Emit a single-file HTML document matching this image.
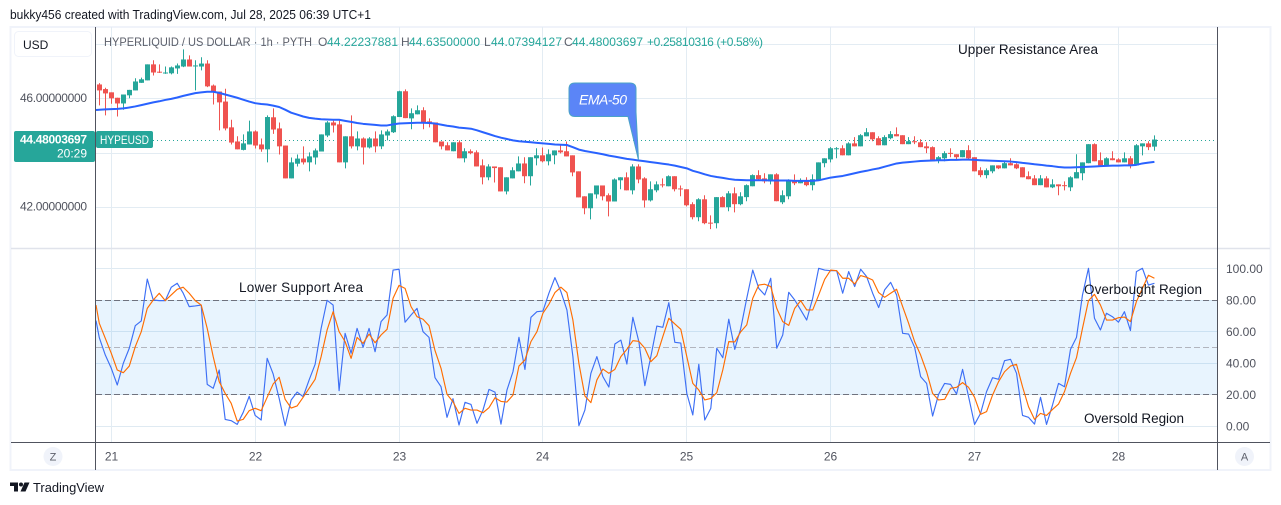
<!DOCTYPE html>
<html lang="en">
<head>
<meta charset="utf-8">
<title>HYPEUSD 1h chart</title>
<style>
html,body{margin:0;padding:0;background:#fff;width:1281px;height:505px;overflow:hidden}
svg{display:block;font-family:"Liberation Sans","DejaVu Sans",sans-serif}
</style>
</head>
<body>
<svg id="chart" xmlns="http://www.w3.org/2000/svg" width="1281" height="505" viewBox="0 0 1281 505">
  <text x="10" y="19" font-size="12.5" fill="#131722" textLength="361" lengthAdjust="spacingAndGlyphs">bukky456 created with TradingView.com, Jul 28, 2025 06:39 UTC+1</text>
  <rect x="10.5" y="27" width="1260" height="443" fill="#fff" stroke="#f0f3fa" stroke-width="2"/>
  <g id="grid"></g>
  <rect x="96" y="300.3" width="1121" height="94.2" fill="#2196f3" fill-opacity="0.1"/>
  <g id="bands"></g>
  <line id="priceLine" x1="153" x2="1217" stroke="#26a69a" stroke-width="1" stroke-dasharray="1 3"/>
  <g id="candles"></g>
  <path id="emaLine" fill="none" stroke="#2962ff" stroke-width="2" stroke-linejoin="round"/>
  <path id="kLine" fill="none" stroke="#3d6ff5" stroke-width="1.15" stroke-linejoin="round"/>
  <path id="dLine" fill="none" stroke="#ff6d00" stroke-width="1.15" stroke-linejoin="round"/>

  <line x1="11" x2="1270" y1="248.5" y2="248.5" stroke="#e0e3eb" stroke-width="1.5"/>
  <line x1="95.5" x2="95.5" y1="27" y2="470" stroke="#50535e" stroke-width="1"/>
  <line x1="1217.5" x2="1217.5" y1="27" y2="470" stroke="#50535e" stroke-width="1"/>
  <line x1="11" x2="1270" y1="442.5" y2="442.5" stroke="#50535e" stroke-width="1"/>

  <g>
    <rect x="14.5" y="31.5" width="77" height="25" rx="4" fill="#fff" stroke="#f0f3fa"/>
    <text x="23" y="49" font-size="12" fill="#131722">USD</text>
  </g>
  <g font-size="12">
    <text x="104" y="46" fill="#5d606b" textLength="208" lengthAdjust="spacingAndGlyphs">HYPERLIQUID / US DOLLAR · 1h · PYTH</text>
    <text x="318" y="46" fill="#5d606b">O</text>
    <text x="327" y="46" fill="#26a69a" textLength="71">44.22237881</text>
    <text x="401" y="46" fill="#5d606b">H</text>
    <text x="409" y="46" fill="#26a69a" textLength="71">44.63500000</text>
    <text x="484" y="46" fill="#5d606b">L</text>
    <text x="491" y="46" fill="#26a69a" textLength="71">44.07394127</text>
    <text x="564" y="46" fill="#5d606b">C</text>
    <text x="572" y="46" fill="#26a69a" textLength="71">44.48003697</text>
    <text x="647" y="46" fill="#26a69a" textLength="116">+0.25810316 (+0.58%)</text>
  </g>
  <g id="priceAxis"></g>
  <g id="stochAxis"></g>
  <g id="timeAxis"></g>

  <rect x="14" y="131" width="81" height="31" rx="2" fill="#26a69a"/>
  <text x="87" y="143.5" font-size="12" font-weight="bold" fill="#fff" text-anchor="end" textLength="67">44.48003697</text>
  <text x="87" y="157.5" font-size="12" fill="#fff" text-anchor="end">20:29</text>
  <rect x="96" y="131" width="57" height="17" rx="2" fill="#26a69a"/>
  <text x="100" y="144" font-size="12" fill="#fff" textLength="49" lengthAdjust="spacingAndGlyphs">HYPEUSD</text>

  <g>
    <path d="M575 83 H630 Q636 83 636 89 V112 L638.5 160 L628 116.5 H575 Q569 116.5 569 110 V89 Q569 83 575 83 Z" fill="#5b85f7" stroke="#4ba3c7" stroke-width="1"/>
    <text x="603" y="104.5" font-size="14" font-style="italic" fill="#fff" text-anchor="middle" textLength="48">EMA-50</text>
  </g>
  <text x="958" y="54" font-size="13.5" fill="#131722" textLength="140">Upper Resistance Area</text>
  <text x="239" y="292" font-size="13.5" fill="#131722" textLength="124">Lower Support Area</text>
  <text x="1084" y="294" font-size="13.5" fill="#131722" textLength="118">Overbought Region</text>
  <text x="1084" y="423" font-size="13.5" fill="#131722" textLength="100">Oversold Region</text>

  <g>
    <circle cx="53" cy="456.5" r="9.5" fill="#f0f3fa"/>
    <text x="53" y="460.5" font-size="11" fill="#5d606b" text-anchor="middle">Z</text>
  </g>
  <g>
    <circle cx="1244.5" cy="456.5" r="9.5" fill="#f0f3fa"/>
    <text x="1244.5" y="460.5" font-size="11" fill="#5d606b" text-anchor="middle">A</text>
  </g>
  <g>
    <path d="M10 482.5 H18 V491.5 H14 V486 H10 Z M24.5 482.5 H29.5 L25.5 491.5 H20.5 Z" fill="#131722"/>
    <circle cx="21" cy="484.5" r="2" fill="#131722"/>
    <text x="33" y="492" font-size="13" fill="#131722" textLength="71" lengthAdjust="spacingAndGlyphs">TradingView</text>
  </g>
</svg>
<script>
const opens = [46.51,46.34,46.22,46.02,45.81,46.11,46.29,46.57,46.66,47.25,
46.98,46.93,46.92,47.10,47.17,47.43,47.20,47.17,47.28,46.47,
46.25,45.88,44.93,44.41,44.10,44.30,44.78,44.30,44.12,45.30,
44.89,44.26,43.05,43.59,43.78,43.64,43.82,44.04,44.63,45.11,
45.04,43.64,44.60,44.23,44.52,44.19,44.52,44.23,44.63,44.75,
45.31,46.26,45.26,45.41,45.56,45.15,45.11,44.41,44.27,44.05,
44.38,43.79,44.05,44.01,43.53,43.09,43.49,43.46,42.57,43.05,
43.31,43.60,43.13,43.79,43.90,43.68,43.90,44.08,44.05,43.90,
43.31,42.39,41.95,42.46,42.79,42.43,42.20,42.98,43.09,42.61,
43.49,43.05,42.24,42.61,42.83,42.76,43.13,42.68,42.65,42.10,
41.62,42.28,41.42,41.40,42.36,41.99,42.50,42.10,42.36,42.76,
43.17,43.05,42.94,43.20,42.17,42.39,42.98,42.87,42.94,42.80,
42.98,43.61,43.75,44.14,44.16,43.90,44.34,44.23,44.60,44.75,
44.53,44.27,44.53,44.68,44.64,44.31,44.42,44.38,44.23,44.20,
43.72,43.79,43.99,43.94,43.83,44.09,43.83,43.35,43.17,43.31,
43.53,43.42,43.61,43.57,43.46,43.13,43.05,42.80,43.05,42.72,
42.83,42.80,42.72,43.05,43.24,43.61,44.31,43.72,43.53,43.79,
43.75,43.64,43.79,43.53,44.23,44.34,44.22];
const highs = [46.56,46.39,46.22,46.02,46.14,46.31,46.74,46.76,47.25,47.40,
47.25,47.17,47.17,47.28,47.80,47.58,47.40,47.51,47.40,46.51,
46.25,46.35,45.21,44.60,44.67,45.18,44.82,44.52,45.37,45.63,
45.11,44.26,43.82,43.93,44.23,44.01,44.15,44.67,45.16,45.18,
45.18,44.60,45.37,44.78,44.56,44.57,44.78,44.82,44.85,45.37,
46.28,46.33,45.63,45.74,45.67,45.26,45.11,44.41,44.38,44.38,
44.45,44.16,44.12,44.08,43.75,43.57,43.49,43.46,43.09,43.46,
43.86,43.83,43.83,44.16,44.19,44.12,44.08,44.30,44.41,43.90,
43.31,42.39,42.50,42.79,42.79,42.50,43.05,43.09,43.27,43.57,
43.57,43.09,42.94,42.94,43.05,43.16,43.13,42.79,42.65,42.17,
42.32,42.43,41.69,42.36,42.39,42.58,42.72,42.54,42.83,43.20,
43.35,43.24,43.20,43.24,42.61,43.02,43.20,43.05,43.09,43.20,
43.64,43.79,44.20,44.20,44.27,44.38,44.57,44.68,44.90,44.75,
44.60,44.64,44.79,44.93,44.64,44.57,44.60,44.49,44.38,44.23,
43.87,44.05,44.16,43.94,44.09,44.27,43.83,43.46,43.42,43.53,
43.53,43.68,43.79,43.61,43.46,43.31,43.17,43.17,43.13,43.02,
42.83,42.94,43.13,43.94,43.64,44.31,44.34,44.01,43.83,44.05,
43.79,44.01,43.87,44.31,44.34,44.42,44.635];
const lows = [45.74,45.37,45.80,45.33,45.58,46.00,46.29,46.57,46.66,46.84,
46.93,46.90,46.88,46.90,47.15,47.17,46.29,47.03,46.41,45.77,
44.82,44.82,44.30,44.12,44.08,44.30,44.15,44.03,43.64,44.69,
43.93,43.05,43.05,43.49,43.56,43.31,43.56,44.04,44.57,44.74,
43.64,43.42,44.15,44.08,43.56,44.15,44.01,44.13,44.45,44.72,
45.31,45.27,44.86,45.41,44.86,44.93,44.38,44.12,44.08,44.05,
43.79,43.64,43.94,43.49,42.83,42.98,42.90,42.57,42.46,43.05,
43.31,42.87,42.79,43.53,43.64,43.53,43.57,43.97,43.86,43.13,
42.35,41.73,41.54,42.31,42.24,41.65,42.20,42.65,42.61,42.46,
42.87,41.98,42.20,42.54,42.72,42.76,42.57,42.39,42.02,41.54,
41.47,41.36,41.18,41.21,41.99,41.84,41.80,42.06,42.21,42.76,
42.98,42.87,42.83,42.21,42.10,42.28,42.80,42.87,42.76,42.61,
42.98,43.46,43.64,43.79,43.90,43.90,44.23,44.23,44.60,44.42,
44.27,44.27,44.49,44.60,44.31,44.31,44.31,44.20,43.98,43.68,
43.61,43.68,43.83,43.72,43.83,43.75,43.31,43.09,43.05,43.24,
43.39,43.42,43.53,43.39,43.09,43.02,42.80,42.80,42.72,42.69,
42.43,42.61,42.58,43.05,42.98,43.61,43.68,43.53,43.53,43.72,
43.64,43.64,43.42,43.53,43.90,44.09,44.07];
const closes = [46.29,46.18,46.00,45.81,46.14,46.31,46.62,46.70,47.25,46.95,
46.95,46.95,47.14,47.21,47.43,47.17,47.21,47.28,46.44,46.22,
45.85,44.89,44.37,44.12,44.34,44.78,44.26,44.12,45.31,44.85,
44.23,43.05,43.64,43.78,43.64,43.86,44.08,44.67,45.11,45.00,
43.64,44.60,44.23,44.52,44.19,44.52,44.23,44.67,44.78,45.34,
46.26,45.27,45.45,45.56,45.11,45.09,44.38,44.23,44.08,44.38,
43.79,44.05,43.98,43.49,43.09,43.49,43.43,42.57,43.09,43.35,
43.60,43.13,43.83,43.90,43.68,43.94,44.08,44.01,43.86,43.27,
42.35,41.95,42.50,42.79,42.39,42.20,43.01,43.09,42.61,43.49,
43.01,42.24,42.65,42.83,42.81,43.13,42.65,42.66,42.06,41.62,
42.28,41.40,41.40,42.36,41.99,42.50,42.10,42.39,42.80,43.17,
43.02,42.94,43.20,42.21,42.43,42.98,42.87,42.94,42.80,43.02,
43.64,43.79,44.16,44.16,43.90,44.34,44.23,44.64,44.75,44.49,
44.27,44.57,44.68,44.60,44.31,44.42,44.38,44.20,44.16,43.68,
43.83,43.98,43.97,43.83,44.09,43.79,43.31,43.17,43.35,43.53,
43.42,43.61,43.53,43.42,43.09,43.02,42.80,43.05,42.72,42.83,
42.76,42.78,43.09,43.28,43.64,44.31,43.68,43.53,43.79,43.72,
43.64,43.79,43.53,44.27,44.34,44.20,44.48];
const ema50 = [45.57,45.58,45.59,45.60,45.61,45.63,45.66,45.70,45.75,45.80,45.85,
45.89,45.94,45.98,46.03,46.09,46.14,46.19,46.22,46.24,46.24,
46.20,46.14,46.08,46.02,45.95,45.88,45.82,45.79,45.77,45.73,
45.68,45.58,45.47,45.40,45.33,45.28,45.25,45.23,45.22,45.21,
45.21,45.17,45.13,45.09,45.06,45.04,45.02,45.00,45.00,45.04,
45.07,45.08,45.09,45.10,45.10,45.09,45.07,45.03,44.99,44.96,
44.92,44.90,44.88,44.82,44.75,44.68,44.61,44.55,44.50,44.45,
44.42,44.40,44.38,44.36,44.34,44.32,44.30,44.29,44.28,44.20,
44.11,44.06,44.02,43.98,43.94,43.89,43.85,43.81,43.77,43.74,
43.71,43.68,43.65,43.62,43.59,43.56,43.52,43.47,43.42,43.33,
43.27,43.20,43.14,43.10,43.07,43.03,43.00,42.99,42.98,42.98,
42.98,42.98,42.97,42.97,42.97,42.97,42.96,42.96,42.96,42.96,
42.98,43.03,43.08,43.11,43.14,43.19,43.24,43.29,43.33,43.38,
43.42,43.48,43.54,43.60,43.63,43.65,43.67,43.69,43.70,43.71,
43.72,43.72,43.73,43.73,43.74,43.74,43.73,43.72,43.71,43.70,
43.69,43.68,43.67,43.65,43.62,43.60,43.57,43.55,43.52,43.50,
43.47,43.45,43.45,43.46,43.47,43.48,43.49,43.50,43.51,43.52,
43.52,43.53,43.53,43.55,43.60,43.63,43.66];
const stochK = [66.8,56.0,45.0,36.6,26.0,39.7,49.3,63.6,66.6,93.2,79.9,
79.5,79.5,88.0,90.5,84.2,75.7,76.1,76.7,26.4,23.9,
35.5,4.2,3.4,1.0,8.6,18.8,6.7,3.8,42.9,33.0,
17.5,0.2,16.5,21.5,18.6,29.2,39.1,61.9,79.7,76.7,
22.4,58.8,46.1,61.9,49.9,61.9,47.1,66.2,70.4,98.9,
99.4,65.8,70.4,74.6,59.8,56.2,30.6,24.9,5.5,17.3,
0.6,15.0,13.7,1.7,10.1,23.2,21.5,1.2,22.8,34.4,
56.2,35.9,68.9,72.5,72.9,84.2,94.1,85.2,73.6,44.0,
0.2,10.1,33.4,44.0,31.3,24.7,52.0,54.5,39.3,68.9,
53.5,25.6,44.0,63.4,62.6,78.2,53.1,52.6,20.7,7.0,
39.1,3.8,11.2,49.3,43.3,67.7,48.6,61.9,81.0,98.9,
87.3,83.1,93.7,49.3,57.7,84.8,79.9,73.6,67.2,81.0,
100,98.9,98.5,98.5,84.2,97.9,88.4,99.4,94.7,84.2,
75.1,86.3,91.1,83.1,58.8,58.3,49.9,31.3,27.0,6.3,
20.1,27.0,26.4,20.3,35.9,18.6,1.0,8.0,21.8,30.6,
29.6,41.4,42.3,33.4,6.7,5.5,1.2,18.2,1.0,13.3,
27.0,24.9,48.6,56.2,83.1,100,68.3,60.9,71.5,69.3,
65.8,72.5,60.5,97.9,100,89.4,90.5];
const stochD = [76.7,65.1,55.6,46.1,35.5,33.8,38.0,50.3,59.8,74.6,79.9,
84.2,79.5,83.1,86.7,88.0,84.2,79.5,76.7,61.9,44.0,
28.1,20.7,14.4,3.1,4.2,9.7,11.2,9.7,18.2,26.6,
30.9,16.9,11.4,12.7,18.2,23.9,29.6,44.0,60.9,72.5,
59.8,53.5,42.9,56.2,52.4,58.3,52.8,57.7,61.3,81.0,
89.2,87.3,75.7,69.3,67.7,63.6,47.8,36.6,20.1,15.4,
8.0,11.2,10.1,10.1,8.4,11.6,17.9,15.6,15.2,19.6,
38.0,41.9,53.5,59.8,71.5,77.2,84.6,88.0,84.6,67.2,
39.7,19.0,14.8,29.2,36.1,33.4,35.9,44.0,48.6,54.1,
53.7,49.3,40.8,44.6,56.7,68.3,64.7,61.3,44.0,27.0,
22.8,16.5,17.5,21.1,35.5,53.5,53.3,59.8,64.1,81.0,
89.4,89.9,88.4,74.6,66.2,63.8,74.6,79.5,73.6,73.6,
83.1,93.0,98.9,98.5,93.7,93.7,90.1,95.4,94.3,92.6,
84.6,81.6,84.2,86.7,75.7,65.1,53.5,45.0,34.4,20.7,
16.5,16.9,23.9,24.5,27.5,24.5,18.2,7.4,9.1,19.6,
28.1,34.4,38.0,39.1,24.9,12.2,4.2,8.0,6.7,10.5,
13.9,21.8,33.4,43.3,61.9,79.5,83.5,76.7,67.2,67.2,
68.7,69.1,66.2,78.9,87.3,95.6,93.7];
const priceGrid = [48, 46, 44, 42];
const priceLabels = [46, 42];
const stochGrid = [100, 80, 60, 40, 20, 0];
const stochBandsDark = [80, 20];
const stochBandsLight = [50];
const dayLabels = ['21','22','23','24','25','26','27','28'];
const hoursPerDay = 24;
const firstDayBar = 2;
const lastPrice = 44.48003697;

const NS = 'http://www.w3.org/2000/svg';
const xBar = i => 99.3 + 5.995 * i;
const yPrice = p => 98.3 + (46 - p) * 27.15;
const yStoch = v => 426 - v * 1.577;
const gridG = document.getElementById('grid');
const bandG = document.getElementById('bands');
const candleG = document.getElementById('candles');
const priceAxisG = document.getElementById('priceAxis');
const stochAxisG = document.getElementById('stochAxis');
const timeAxisG = document.getElementById('timeAxis');

function make(tag, parent, props) {
  const el = document.createElementNS(NS, tag);
  for (const k in props) el.setAttribute(k, props[k]);
  parent.appendChild(el);
  return el;
}
function linePath(values, yFn) {
  return values.map((v, k) => (k ? 'L' : 'M') + Math.max(xBar(k - 1), 96).toFixed(2) + ' ' + yFn(v).toFixed(2)).join(' ');
}

priceGrid.forEach(p => {
  const y = Math.round(yPrice(p)) + 0.5;
  const el = make('line', gridG, {x1: 96, x2: 1217, y1: y, y2: y, stroke: '#e3ecf3', 'stroke-width': 1});
  
  
});
stochGrid.forEach(v => {
  const y = Math.round(yStoch(v)) + 0.5;
  const el = make('line', gridG, {x1: 96, x2: 1217, y1: y, y2: y, stroke: '#dfeaf2', 'stroke-width': 1});
  
  
  const label = make('text', stochAxisG, {x: 1226, y: yStoch(v) + 4.5, 'font-size': 12, fill: '#50535e'});
  label.textContent = v.toFixed(2);
  
  
});
dayLabels.forEach((d, k) => {
  const x = Math.floor(xBar(firstDayBar + k * hoursPerDay)) + 0.5;
  [[27, 248], [249, 442]].forEach(r => {
    const el = make('line', gridG, {x1: x, x2: x, y1: r[0], y2: r[1], stroke: '#e3ecf3', 'stroke-width': 1});
    
    
  });
  const label = make('text', timeAxisG, {x: x, y: 460.5, 'font-size': 12, fill: '#50535e', 'text-anchor': 'middle'});
  label.textContent = d;
  
  
});
stochBandsDark.forEach(v => {
  const y = Math.round(yStoch(v)) + 0.5;
  const el = make('line', bandG, {x1: 96, x2: 1217, y1: y, y2: y, stroke: '#6f727e', 'stroke-width': 1, 'stroke-dasharray': '6 3'});
  
  
});
stochBandsLight.forEach(v => {
  const y = Math.round(yStoch(v)) + 0.5;
  const el = make('line', bandG, {x1: 96, x2: 1217, y1: y, y2: y, stroke: '#b2b5be', 'stroke-width': 1, 'stroke-dasharray': '6 3'});
  
  
});
priceLabels.forEach(p => {
  const label = make('text', priceAxisG, {x: 87, y: yPrice(p) + 3.5, 'font-size': 12, fill: '#50535e', 'text-anchor': 'end', textLength: 67});
  label.textContent = p.toFixed(8);
  
  
});

const lastY = Math.round(yPrice(lastPrice)) + 0.5;
const priceLineEl = document.getElementById('priceLine');
priceLineEl.setAttribute('y1', lastY);
priceLineEl.setAttribute('y2', lastY);

opens.forEach((o, i) => {
  const c = closes[i];
  const col = c >= o ? '#26a69a' : '#ef5350';
  const x = Math.floor(xBar(i));
  const wick = make('line', candleG, {x1: x + 0.5, x2: x + 0.5, y1: yPrice(highs[i]), y2: yPrice(lows[i]), stroke: col, 'stroke-width': 1});
  
  
  const top = yPrice(Math.max(o, c));
  const h = Math.max(Math.abs(yPrice(o) - yPrice(c)), 1);
  const body = make('rect', candleG, {x: x - 2, y: top, width: 5, height: h, fill: col});
  
  
});

document.getElementById('emaLine').setAttribute('d', linePath(ema50, yPrice));
document.getElementById('kLine').setAttribute('d', linePath(stochK, yStoch));
document.getElementById('dLine').setAttribute('d', linePath(stochD, yStoch));
</script>
</body>
</html>
